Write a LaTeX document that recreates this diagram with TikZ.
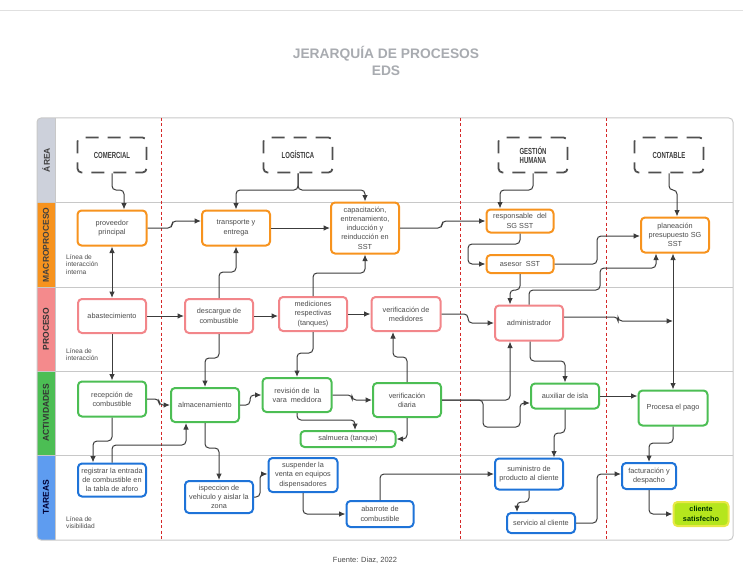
\documentclass[tikz,border=0pt]{standalone}
\usepackage{fontspec}
\setmainfont{Liberation Sans}
\newfontfamily\areafont[FakeStretch=0.68]{Liberation Sans}
\usepackage{tikz}
\usetikzlibrary{arrows.meta}

\definecolor{orangeM}{RGB}{247,147,30}
\definecolor{pinkP}{RGB}{242,134,138}
\definecolor{greenA}{RGB}{76,190,84}
\definecolor{blueT}{RGB}{30,115,216}
\definecolor{laneA}{RGB}{205,209,219}
\definecolor{laneP}{RGB}{244,138,140}
\definecolor{laneT}{RGB}{94,156,240}
\definecolor{linegray}{RGB}{60,60,60}
\definecolor{boxtext}{RGB}{75,75,75}
\definecolor{framegray}{RGB}{200,200,200}
\definecolor{sepred}{RGB}{212,40,40}
\definecolor{titlegray}{RGB}{168,171,176}
\definecolor{limefill}{RGB}{181,230,29}
\definecolor{limeedge}{RGB}{232,232,70}

\begin{document}
\begin{tikzpicture}[x=1pt,y=-1pt,
  basebox/.style={rounded corners=4pt, line width=2pt, fill=white, align=center,
    inner sep=0pt, text=boxtext, font=\fontsize{7.3}{9.3}\selectfont},
  macrobox/.style={basebox, draw=orangeM},
  procbox/.style={basebox, draw=pinkP},
  activbox/.style={basebox, draw=greenA},
  tareabox/.style={basebox, draw=blueT},
  areabox/.style={draw=linegray!90, line width=1.8pt, rounded corners=4pt,
    dash pattern=on 13pt off 9pt, minimum width=69pt, minimum height=35pt,
    align=center, text=linegray, font=\areafont\bfseries\fontsize{8.8}{9.2}\selectfont},
  lanelabel/.style={rotate=90, font=\bfseries\fontsize{8.5}{9}\selectfont},
  notelabel/.style={anchor=north west, align=left, text=boxtext, inner sep=0pt,
    font=\fontsize{6.6}{7.9}\selectfont},
  conn/.style={draw=linegray, line width=1pt, rounded corners=4pt,
    -{Latex[length=6.5pt,width=5.5pt]}},
  sepline/.style={draw=sepred, line width=0.8pt, dash pattern=on 3pt off 2.5pt},
  laneline/.style={draw=framegray, line width=1pt}]

\useasboundingbox (0,0) rectangle (743,580);
\draw[draw=black!12, line width=0.6pt] (0,10) -- (743,10);

% titulo
\node[text=titlegray, font=\bfseries\fontsize{13.8}{17}\selectfont, align=center] (titulo) at (386,61) {JERARQUÍA DE PROCESOS\\EDS};
\node[text=boxtext, font=\fontsize{7.5}{9}\selectfont] (fuente) at (365,560) {Fuente: Diaz, 2022};

% carriles
\begin{scope}
 \clip[rounded corners=4pt] (37,118) rectangle (733,540);
 \fill[laneA] (37,118) rectangle (55,202);
 \fill[orangeM] (37,202) rectangle (55,287);
 \fill[laneP] (37,287) rectangle (55,371);
 \fill[greenA] (37,371) rectangle (55,455);
 \fill[laneT] (37,455) rectangle (55,540);
\end{scope}
\foreach \y in {202,287,371,455}
  \draw[laneline] (37,\y) -- (733,\y);
\draw[laneline] (55,118) -- (55,540);
\draw[framegray, line width=1pt, rounded corners=4pt] (37,118) rectangle (733,540);

\node[lanelabel, text=black!75] (lArea) at (46,160) {ÁREA};
\node[lanelabel, text=black!75] (lMacro) at (46,245) {MACROPROCESO};
\node[lanelabel, text=black!80] (lProc) at (46,329) {PROCESO};
\node[lanelabel, text=black!80] (lActiv) at (46,413) {ACTIVIDADES};
\node[lanelabel, text=blue!20!black] (lTareas) at (46,497) {TAREAS};

\foreach \x in {161,460,606}
  \draw[sepline] (\x,118) -- (\x,540);

% notas
\node[notelabel] (nInterna) at (66,254) {Línea de\\interacción\\interna};
\node[notelabel] (nInter) at (66,348) {Línea de\\interacción};
\node[notelabel] (nVisib) at (66,516) {Línea de\\visibilidad};

% areas
\node[areabox] (comercial) at (112,155) {COMERCIAL};
\node[areabox] (logistica) at (298,155) {LOGÍSTICA};
\node[areabox] (gestion) at (533,155) {GESTIÓN\\HUMANA};
\node[areabox] (contable) at (669,155) {CONTABLE};

% macroproceso
\node[macrobox, minimum width=69pt, minimum height=35pt] (proveedor) at (112,228) {proveedor\\principal};
\node[macrobox, minimum width=68pt, minimum height=35pt] (transporte) at (236,228) {transporte y\\entrega};
\node[macrobox, minimum width=68pt, minimum height=51pt] (capacitacion) at (365,228) {capacitación,\\entrenamiento,\\inducción y\\reinducción en\\SST};
\node[macrobox, minimum width=67pt, minimum height=23pt] (responsable) at (520,221) {responsable\ \ del\\SG SST};
\node[macrobox, minimum width=67pt, minimum height=18pt] (asesor) at (520,264) {asesor\ \ SST};
\node[macrobox, minimum width=68pt, minimum height=35pt] (planeacion) at (675,235) {planeación\\presupuesto SG\\SST};

% proceso
\node[procbox, minimum width=68pt, minimum height=34pt] (abastecimiento) at (112,316) {abastecimiento};
\node[procbox, minimum width=68pt, minimum height=34pt] (descargue) at (219,316) {descargue de\\combustible};
\node[procbox, minimum width=68pt, minimum height=34pt] (mediciones) at (313,314) {mediciones\\respectivas\\(tanques)};
\node[procbox, minimum width=69pt, minimum height=34pt] (medidores) at (406,314) {verificación de\\medidores};
\node[procbox, minimum width=68pt, minimum height=35pt] (administrador) at (529,323) {administrador};

% actividades
\node[activbox, minimum width=68pt, minimum height=35pt] (recepcion) at (112,399) {recepción de\\combustible};
\node[activbox, minimum width=68pt, minimum height=34pt] (almacenamiento) at (205,405) {almacenamiento};
\node[activbox, minimum width=69pt, minimum height=34pt] (revision) at (297,395) {revisión\ de\ \ la\\vara\ \ medidora};
\node[activbox, minimum width=68pt, minimum height=34pt] (diaria) at (407,400) {verificación\\diaria};
\node[activbox, minimum width=95pt, minimum height=16pt] (salmuera) at (348,439) {salmuera (tanque)};
\node[activbox, minimum width=68pt, minimum height=25pt] (auxiliar) at (565,396) {auxiliar de isla};
\node[activbox, minimum width=69pt, minimum height=35pt] (procesa) at (673,408) {Procesa el pago};

% tareas
\node[tareabox, minimum width=68pt, minimum height=33pt] (registrar) at (112,480) {registrar la entrada\\de combustible en\\la tabla de aforo};
\node[tareabox, minimum width=68pt, minimum height=32pt] (ispeccion) at (219,497) {ispeccion de\\vehiculo y aislar la\\zona};
\node[tareabox, minimum width=69pt, minimum height=34pt] (suspender) at (303,475) {suspender la\\venta en equipos\\dispensadores};
\node[tareabox, minimum width=67pt, minimum height=26pt] (abarrote) at (380,514) {abarrote de\\combustible};
\node[tareabox, minimum width=68pt, minimum height=31pt] (suministro) at (529,474) {suministro de\\producto al cliente};
\node[tareabox, minimum width=68pt, minimum height=20pt] (servicio) at (541,523) {servicio al cliente};
\node[tareabox, minimum width=54pt, minimum height=26pt] (facturacion) at (649,476) {facturación y\\despacho};
\node[basebox, draw=limeedge, fill=limefill, text=black!80!green, font=\bfseries\fontsize{7.3}{9.3}\selectfont,
  minimum width=55pt, minimum height=24pt] (cliente) at (701,514) {cliente\\satisfecho};

% conectores area -> macroproceso
\draw[conn] (comercial.south) |- (124,190) -- (124,0 |- proveedor.north);
\draw[conn] (logistica.south) |- (236,190) -- (transporte.north);
\draw[conn] (logistica.south) |- (365,190) -- (capacitacion.north);
\draw[conn] (gestion.south) |- (500,190) -- (500,0 |- responsable.north);
\draw[conn] (contable.south) |- (677,190) -- (677,0 |- planeacion.north);

% macroproceso
\draw[conn] (proveedor.east) -| (172,221) -- (transporte.west |- 0,221);
\draw[conn] (transporte.east) -- (capacitacion.west);
\draw[conn] (capacitacion.east) -| (442,221) -- (responsable.west);
\draw[conn] (responsable.south) |- (468,244) |- (asesor.west);
\draw[conn] (asesor.east) -| (597,236) -- (planeacion.west |- 0,236);

% proceso
\draw[conn,{Latex[length=6.5pt,width=5.5pt]}-{Latex[length=6.5pt,width=5.5pt]}] (proveedor.south) -- (abastecimiento.north);
\draw[conn] (descargue.north) |- (236,272) -- (transporte.south);
\draw[conn] (abastecimiento.east) -- (descargue.west);
\draw[conn] (descargue.east) -- (mediciones.west |- descargue.east);
\draw[conn] (mediciones.north) |- (365,273) -- (capacitacion.south);
\draw[conn] (mediciones.east) -- (medidores.west);
\draw[conn] (medidores.east) -| (468,323) -- (administrador.west);
\draw[conn] (asesor.south) |- (510,290) -- (510,0 |- administrador.north);
\draw[conn] (529,0 |- administrador.north) |- (600,290) |- (656,268) -- (656,0 |- planeacion.south);
\draw[conn] (administrador.east |- 0,317) -| (618,321) -- (673,321);
\draw[conn,{Latex[length=6.5pt,width=5.5pt]}-{Latex[length=6.5pt,width=5.5pt]}] (673,0 |- planeacion.south) -- (673,0 |- procesa.north);

% actividades
\draw[conn] (abastecimiento.south) -- (recepcion.north);
\draw[conn] (descargue.south) |- (205,358) -- (almacenamiento.north);
\draw[conn] (mediciones.south) |- (297,353) -- (revision.north);
\draw[conn] (diaria.north) |- (393,357) -- (393,0 |- medidores.south);
\draw[conn] (recepcion.east) -| (159,405) -- (almacenamiento.west);
\draw[conn] (almacenamiento.east) -| (250,395) -- (revision.west);
\draw[conn] (revision.east) -| (352,400) -- (diaria.west);
\draw[conn] (297,0 |- revision.south) |- (355,420) -- (355,0 |- salmuera.north);
\draw[conn] (diaria.south) |- (salmuera.east);
\draw[conn] (diaria.east) -| (510,0 |- administrador.south);
\draw[conn] (diaria.east) -- (483,400) |- (520,427) |- (auxiliar.west |- 0,403);
\draw[conn] (530,0 |- administrador.south) |- (565,361) -- (auxiliar.north);
\draw[conn] (auxiliar.east) -- (procesa.west |- auxiliar.east);

% tareas
\draw[conn] (auxiliar.south) |- (554,433) -- (554,0 |- suministro.north);
\draw[conn] (procesa.south) |- (649,443) -- (facturacion.north);
\draw[conn] (recepcion.south) |- (93,441) -- (93,0 |- registrar.north);
\draw[conn] (registrar.north) |- (186,445) -- (186,0 |- almacenamiento.south);
\draw[conn] (almacenamiento.south) |- (219,448) -- (ispeccion.north);
\draw[conn] (ispeccion.east) -| (260,474) -- (suspender.west |- 0,474);
\draw[conn] (suspender.south) |- (abarrote.west);
\draw[conn] (abarrote.north) |- (suministro.west);
\draw[conn] (suministro.south) |- (517,502) -- (517,0 |- servicio.north);
\draw[conn] (servicio.east) -| (597,474) -- (facturacion.west |- 0,474);
\draw[conn] (facturacion.south) |- (cliente.west);

\end{tikzpicture}
\end{document}
